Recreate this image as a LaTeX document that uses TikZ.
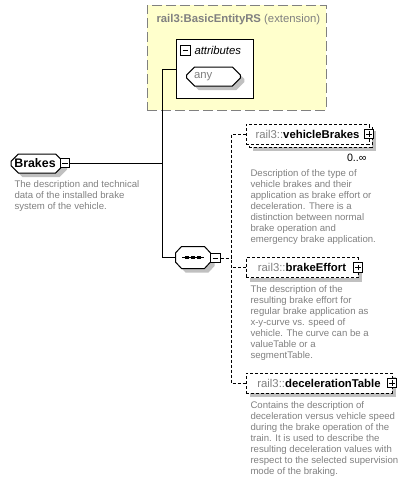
\documentclass[tikz,border=0pt]{standalone}
\usepackage{fontspec}
\setmainfont{Liberation Sans}
\usetikzlibrary{shapes.misc,shadows}
\definecolor{extyellow}{RGB}{255,255,204}
\definecolor{descgray}{RGB}{128,128,128}
\definecolor{shadowgray}{RGB}{192,192,192}
\newcommand{\namefont}{\fontsize{8.5pt}{10pt}\selectfont}
\newcommand{\descfont}{\fontsize{7.2pt}{8.25pt}\selectfont}
\newcommand{\prefix}{\textcolor{descgray}{\mdseries rail3::}}
\begin{document}
\begin{tikzpicture}[x=0.75pt, y=-0.75pt, line width=0.75pt,
  shadowed/.style={drop shadow={shadow xshift=3pt, shadow yshift=-3pt, fill=shadowgray, opacity=1}},
  elem/.style={chamfered rectangle, chamfered rectangle angle=45, chamfered rectangle xsep=2pt, draw, fill=white, inner sep=0pt, shadowed},
  childbox/.style={draw, dash pattern=on 2.25pt off 1.5pt, fill=white, minimum height=15pt, inner sep=0pt, font=\namefont\bfseries},
  minusbox/.style={draw, solid, fill=white, minimum size=7pt, inner sep=0pt, line width=0.6pt,
    path picture={\draw ([xshift=1.4pt]path picture bounding box.west) -- ([xshift=-1.4pt]path picture bounding box.east);}},
  plusbox/.style={draw, solid, fill=white, minimum size=7pt, inner sep=0pt, line width=0.6pt,
    path picture={\draw ([xshift=1.4pt]path picture bounding box.west) -- ([xshift=-1.4pt]path picture bounding box.east);
                  \draw ([yshift=1.4pt]path picture bounding box.south) -- ([yshift=-1.4pt]path picture bounding box.north);}},
  desc/.style={anchor=north west, inner sep=0pt, align=left, text=descgray, font=\descfont},
  link/.style={dash pattern=on 2.25pt off 1.5pt}]
\useasboundingbox (0,0) rectangle (420,482);
% extension
\node[draw=descgray, fill=extyellow, dash pattern=on 7.5pt off 3pt, minimum width=134.25pt, minimum height=78.75pt] (ext) at (236.5,57.5) {};
\node[anchor=west, inner sep=0pt, text=descgray, font=\namefont] (exttitle) at (156,20) {\textbf{rail3:BasicEntityRS} (extension)};
\node[draw, fill=white, minimum width=57.75pt, minimum height=44.25pt] (attr) at (214.5,68.5) {};
\node[minusbox] (attrminus) at (185.5,50.5) {};
\node[anchor=west, inner sep=0pt, font=\namefont\itshape] (attrlabel) at (194,50) {attributes};
\node[chamfered rectangle, chamfered rectangle angle=45, chamfered rectangle xsep=2.5pt, draw, fill=white, shadowed, text=descgray, font=\namefont,
  text width=29.25pt, inner xsep=3pt, inner ysep=0pt, minimum height=14.25pt, align=left] (any) at (213.5,76.5) {any};
% element
\node[elem, minimum width=39pt, minimum height=14.25pt, font=\fontsize{9.3pt}{11pt}\selectfont\bfseries] (brakes) at (37,163.5) {\hspace*{-3pt}Brakes};
\node[minusbox] (bminus) at (65,163) {};
\node[desc] (brakesdesc) at (14,180) {The description and technical\\data of the installed brake\\system of the vehicle.};
% sequence
\node[minimum width=25.5pt, minimum height=15.75pt, inner sep=0pt] (seq) at (193,257.5) {};
\draw[fill=white, shadowed] ([yshift=3.4pt]seq.west) -- ([xshift=4.5pt]seq.north west) -- ([xshift=-4.5pt]seq.north east)
  -- ([yshift=3.4pt]seq.east) -- ([yshift=-3.4pt]seq.east) -- ([xshift=-4.5pt]seq.south east)
  -- ([xshift=4.5pt]seq.south west) -- ([yshift=-3.4pt]seq.west) -- cycle;
\draw (seq.center) ++(-11,0) -- ++(22,0);
\foreach \dx in {-6,0,6} \fill ([xshift=\dx*0.75pt]seq.center) +(-1.6,-1.3) rectangle +(1.6,1.3);
\node[minusbox] (sminus) at (215.5,258) {};
% children
\node[childbox, shadowed, minimum width=92.25pt] (vBback) at (310.5,137) {};
\node[childbox, minimum width=92.25pt] (vB) at (307.5,134) {\prefix vehicleBrakes};
\node[plusbox] (vBplus) at (369,134) {};
\node[anchor=east, inner sep=0pt, font=\fontsize{8pt}{9pt}\selectfont] (vBmult) at (367,158) {0..∞};
\node[desc] (vBdesc) at (250,169) {Description of the type of\\vehicle brakes and their\\application as brake effort or\\deceleration. There is a\\distinction between normal\\brake operation and\\emergency brake application.};
\node[childbox, shadowed, minimum width=84pt] (bE) at (302,267.5) {\prefix brakeEffort};
\node[plusbox] (bEplus) at (358,267.5) {};
\node[desc] (bEdesc) at (250,285) {The description of the\\resulting brake effort for\\regular brake application as\\x-y-curve vs. speed of\\vehicle. The curve can be a\\valueTable or a\\segmentTable.};
\node[childbox, shadowed, minimum width=109.5pt] (dT) at (319,383) {\prefix decelerationTable};
\node[plusbox] (dTplus) at (392,383) {};
\node[desc] (dTdesc) at (250,401) {Contains the description of\\deceleration versus vehicle speed\\during the brake operation of the\\train. It is used to describe the\\resulting deceleration values with\\respect to the selected supervision\\mode of the braking.};
% connectors
\coordinate (ja) at (162,69);
\coordinate (jc) at (231,258);
\draw (attr.west |- ja) -- (ja) |- (seq.west);
\draw (bminus.east) -- (bminus.east -| ja);
\draw[link] (sminus.east) -- (jc);
\draw[link] (vB.west) -- (vB.west -| jc) -- (dT.west -| jc) -- (dT.west);
\draw[link] (bE.west) -- (bE.west -| jc);
\end{tikzpicture}
\end{document}
